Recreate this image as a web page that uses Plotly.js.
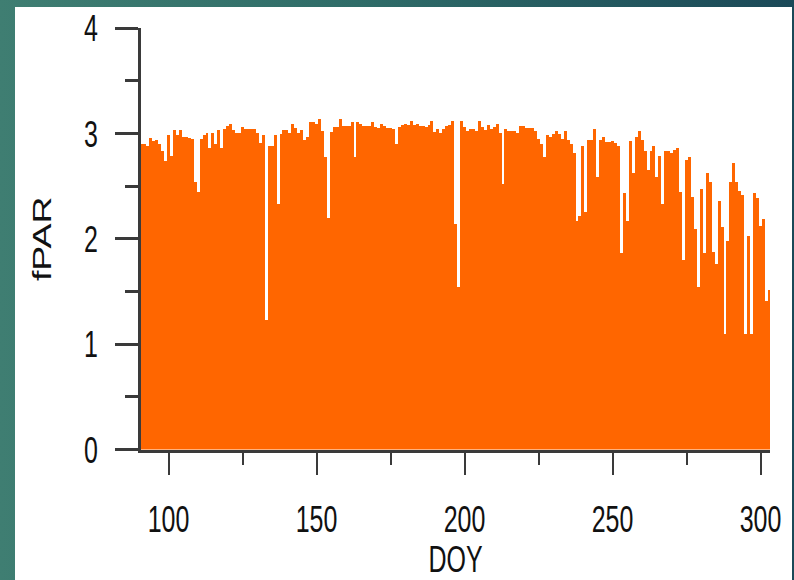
<!DOCTYPE html>
<html>
<head>
<meta charset="utf-8">
<script src="https://cdn.plot.ly/plotly-3.0.1.min.js"></script>
<style>
  html, body { margin: 0; padding: 0; width: 794px; height: 580px; overflow: hidden; }
  body { background: linear-gradient(to right, #3f7e72 0%, #2f6c68 45%, #1b4958 100%); position: relative; }
  #frame { position: absolute; left: 15px; top: 7px; width: 777px; height: 573px; background: #ffffff; overflow: hidden; }
  /* the chart is laid out at 2/3 height and stretched to full height, giving the tall lettering */
  #chart { position: absolute; left: 0; top: -30px; width: 777px; height: 402px; transform: scaleY(1.5); transform-origin: 0 0; }
</style>
</head>
<body>
<div id="frame"><div id="chart"></div></div>
<script>
// Daily fPAR for the growing season, one value per day of year starting at firstDay
const firstDay = 91;
const fpar = [
  // 91-100
  2.90, 2.90, 2.88, 2.96, 2.93, 2.94, 2.90, 2.83, 2.74, 2.98,
  // 101-110
  2.79, 3.03, 2.98, 3.03, 2.97, 2.97, 2.96, 2.95, 2.54, 2.44,
  // 111-120
  2.95, 2.98, 3.00, 2.86, 3.00, 2.90, 3.03, 2.86, 3.04, 3.07,
  // 121-130
  3.09, 3.03, 3.00, 3.00, 3.06, 3.04, 3.04, 3.04, 3.04, 3.00,
  // 131-140
  2.91, 2.98, 1.23, 2.88, 2.88, 2.98, 2.33, 2.99, 3.03, 3.03,
  // 141-150
  3.00, 3.09, 3.05, 3.00, 3.03, 2.94, 2.97, 3.11, 3.11, 3.09,
  // 151-160
  3.14, 3.02, 2.78, 2.20, 3.01, 3.06, 3.06, 3.14, 3.07, 3.07,
  // 161-170
  3.07, 3.11, 2.78, 3.11, 3.09, 3.07, 3.07, 3.07, 3.11, 3.06,
  // 171-180
  3.05, 3.09, 3.07, 3.05, 3.05, 3.04, 2.90, 3.06, 3.08, 3.09,
  // 181-190
  3.08, 3.12, 3.08, 3.09, 3.07, 3.07, 3.06, 3.08, 3.12, 3.01,
  // 191-200
  3.04, 3.00, 3.04, 3.07, 3.08, 3.12, 2.14, 1.54, 3.12, 3.06,
  // 201-210
  3.02, 3.04, 3.04, 3.02, 3.12, 3.06, 3.03, 3.08, 3.04, 3.06,
  // 211-220
  3.09, 3.00, 2.52, 3.04, 3.02, 3.02, 3.02, 3.00, 3.07, 3.07,
  // 221-230
  3.05, 3.05, 3.05, 3.02, 2.95, 2.90, 2.78, 2.98, 2.97, 2.99,
  // 231-240
  3.02, 2.99, 2.95, 3.02, 2.94, 2.90, 2.81, 2.17, 2.22, 2.88,
  // 241-250
  2.25, 2.94, 2.94, 3.04, 2.59, 2.94, 2.97, 2.92, 2.92, 2.93,
  // 251-260
  2.91, 2.88, 1.86, 2.43, 2.17, 2.93, 2.62, 2.97, 3.02, 2.94,
  // 261-270
  2.83, 2.65, 2.83, 2.88, 2.59, 2.79, 2.33, 2.83, 2.83, 2.81,
  // 271-280
  2.84, 2.86, 2.44, 1.80, 2.75, 2.78, 2.40, 2.09, 1.54, 2.47,
  // 281-290
  1.86, 2.62, 2.54, 1.87, 1.76, 2.36, 2.11, 1.10, 1.98, 2.54,
  // 291-300
  2.72, 2.54, 2.45, 2.42, 1.10, 2.03, 1.10, 2.43, 2.39, 2.12,
  // 301-303
  2.19, 1.41, 1.51
];
const doy = fpar.map((_, i) => firstDay + i);

const xTickVals = [100, 150, 200, 250, 300];
const xMinorVals = [125, 175, 225, 275];
const yTickVals = [0, 1, 2, 3, 4];
const yMinorVals = [0.5, 1.5, 2.5, 3.5];

const fontFamily = '"Liberation Sans", Arial, sans-serif';
const textColor = '#111111';
const axisColor = '#3a3a3a';

const trace = {
  type: 'bar',
  x: doy,
  y: fpar,
  width: 1,
  marker: { color: '#ff6600', line: { width: 0 } },
  hoverinfo: 'x+y'
};

const layout = {
  width: 777,
  height: 402,
  margin: { l: 126, r: 22, t: 34, b: 87 },
  paper_bgcolor: 'rgba(0,0,0,0)',
  plot_bgcolor: '#ffffff',
  bargap: 0,
  showlegend: false,
  font: { family: fontFamily, color: textColor, size: 25 },
  xaxis: {
    range: [90.7, 303.2],
    tickmode: 'array',
    tickvals: xTickVals,
    ticktext: xTickVals.map(String),
    ticks: 'outside',
    ticklen: 15,
    tickwidth: 2,
    tickcolor: axisColor,
    ticklabelstandoff: 8,
    minor: { tickvals: xMinorVals, ticks: 'outside', ticklen: 8, tickwidth: 2, tickcolor: axisColor, showgrid: false },
    showline: true,
    linecolor: axisColor,
    linewidth: 2,
    showgrid: false,
    zeroline: false,
    tickfont: { family: fontFamily, size: 25, color: textColor },
    title: { text: 'DOY', font: { family: fontFamily, size: 25, color: textColor } },
    automargin: false
  },
  yaxis: {
    range: [0, 4],
    tickmode: 'array',
    tickvals: yTickVals,
    ticktext: yTickVals.map(String),
    ticks: 'outside',
    ticklen: 23,
    tickwidth: 2,
    tickcolor: axisColor,
    ticklabelstandoff: 12,
    minor: { tickvals: yMinorVals, ticks: 'outside', ticklen: 13, tickwidth: 2, tickcolor: axisColor, showgrid: false },
    showline: true,
    linecolor: axisColor,
    linewidth: 3,
    showgrid: false,
    zeroline: false,
    tickfont: { family: fontFamily, size: 25, color: textColor },
    title: { text: 'fPAR', font: { family: fontFamily, size: 25, color: textColor }, standoff: 26 },
    automargin: true
  }
};

Plotly.newPlot('chart', [trace], layout, { displayModeBar: false, staticPlot: true });
</script>
</body>
</html>
